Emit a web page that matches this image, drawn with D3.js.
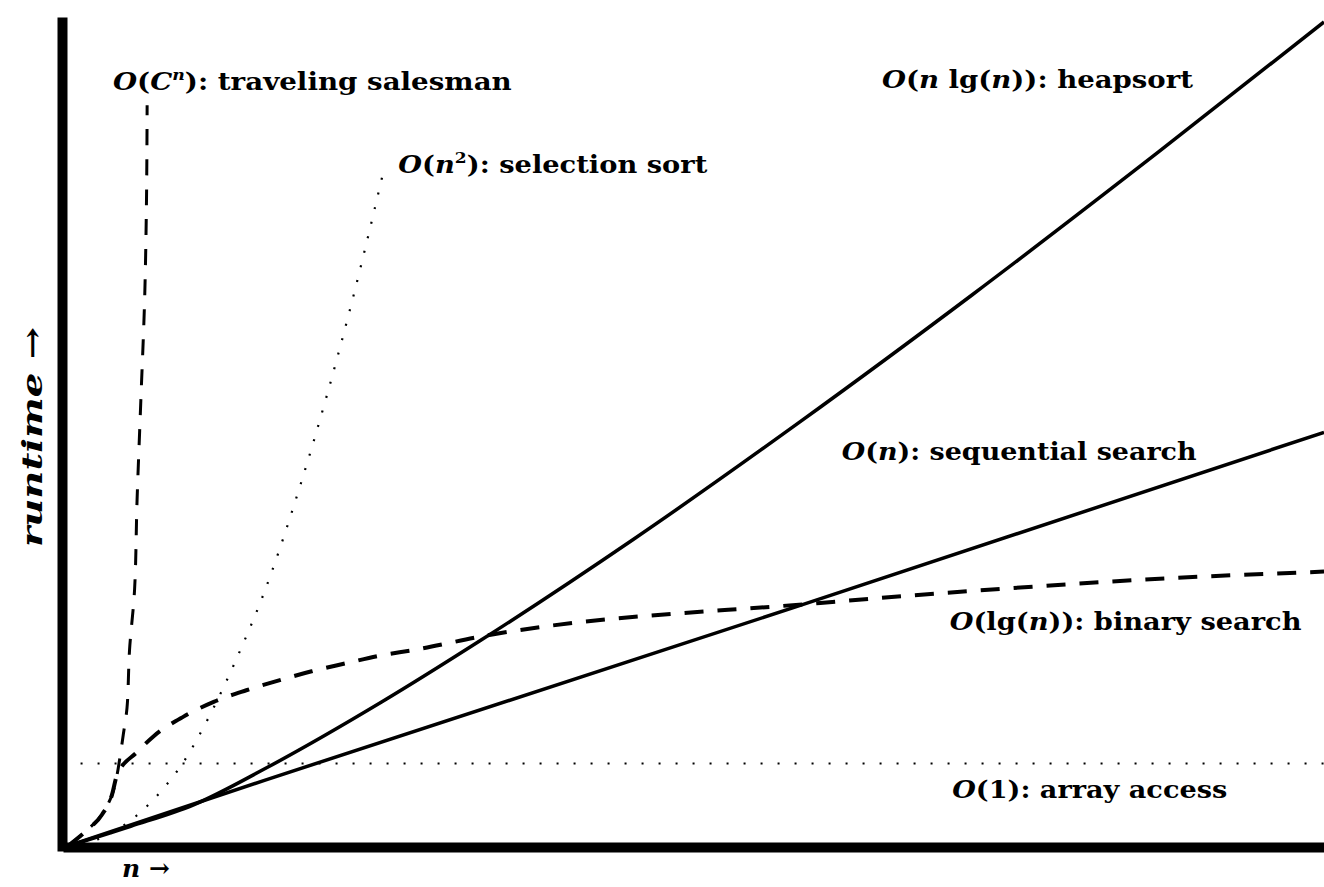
<!DOCTYPE html>
<html><head><meta charset="utf-8">
<script src="https://cdn.jsdelivr.net/npm/d3@7"></script>
<style>body{margin:0;background:#fff} svg{display:block}</style>
</head><body>
<svg id="chart" width="1324" height="887"></svg>
<script>
// ---------------- data (n, runtime) ----------------
const xTitle = "n";
const yTitle = "runtime";
const expPts  = [[0,0],[1.5,1.9],[2.7,3.8],[3.5,6.2],[3.9,8.6],[4.1,10.4],[4.4,13.5],[4.7,16.8],[4.9,23.8],[5.3,31.1],[5.5,42.0],[5.8,54.1],[6.1,66.3],[6.25,78.4],[6.3,89.9]];
const quadPts = [[0,0],[2.5,0.9],[5.7,4.0],[7.6,7.0],[9.2,10.2],[11.1,15.3],[13.9,24.4],[15.4,29.9],[18.5,43.8],[22.7,66.6],[25.2,82.4]];
const nlgnPts = [[0,0],[5,2.4],[10,5.0],[15.7,9.4],[25,17.5],[32.8,24.9],[45,37.2],[58.3,51.5],[72,66.9],[86.8,84.2],[100,100]];
const linPts  = [[0,0],[15.7,8.0],[58.3,29.2],[100,50.2]];
const logPts  = [[0,0],[1.5,1.9],[2.7,3.8],[3.5,6.2],[3.9,8.6],[5.5,11.4],[6.8,13.3],[9.2,15.7],[11.6,17.5],[14.2,18.9],[16.8,20.1],[19.4,21.2],[22.2,22.2],[24.8,23.1],[27.6,23.8],[32.8,25.4],[59.9,29.5],[74.2,31.2],[87.7,32.5],[100,33.3]];
const constPts = [[1,10],[100,10]];

// label texts as segments: [text, style]  (i = italic, s = superscript, si = italic superscript)
const labelTexts = [
  [["O","i"],["(",""],["C","i"],["n","si"],["): traveling salesman",""]],
  [["O","i"],["(",""],["n","i"],["2","s"],["): selection sort",""]],
  [["O","i"],["(",""],["n","i"],[" lg(",""],["n","i"],["))",""],[": heapsort",""]],
  [["O","i"],["(",""],["n","i"],["): sequential search",""]],
  [["O","i"],["(lg(",""],["n","i"],[")): binary search",""]],
  [["O","i"],["(1): array access",""]]
];
// label anchors in data units (n, runtime)
const labelAnchors = [[3.58,91.7],[26.3,81.7],[64.8,92.0],[61.6,46.8],[70.2,26.2],[70.4,5.8]];

// ---------------- layout / style ----------------
const labelWidths = [399, 309, 311, 355, 352, 275];
const series = [
  {pts: expPts,   width: 3,   dash: "16,14", curve: d3.curveCatmullRom.alpha(0.5)},
  {pts: quadPts,  width: 2.2, dash: "2,13",  curve: d3.curveMonotoneX},
  {pts: nlgnPts,  width: 3.5, dash: null,    curve: d3.curveMonotoneX},
  {pts: linPts,   width: 3.5, dash: null,    curve: d3.curveLinear},
  {pts: logPts,   width: 4,   dash: "19,14", curve: d3.curveMonotoneX},
  {pts: constPts, width: 2,   dash: "2,15",  curve: d3.curveLinear}
];

const svg = d3.select("#chart");
const x = d3.scaleLinear().domain([0,100]).range([68,1324]);
const y = d3.scaleLinear().domain([0,100]).range([846,22]);

svg.append("g").selectAll("path").data(series).join("path")
  .attr("d", d=>d3.line().x(p=>x(p[0])).y(p=>y(p[1])).curve(d.curve)(d.pts))
  .attr("fill","none").attr("stroke","#000")
  .attr("stroke-width", d=>d.width)
  .attr("stroke-dasharray", d=>d.dash)
  .attr("stroke-linejoin","round");

// axes
svg.append("g").attr("transform","translate(62,0)")
  .call(d3.axisLeft(y).tickValues([]).tickSizeOuter(0));
svg.append("g").attr("transform","translate(0,847)")
  .call(d3.axisBottom(x).tickValues([]).tickSizeOuter(0));
svg.selectAll(".domain").attr("stroke","#000").attr("stroke-width",10).attr("stroke-linecap","square");

// labels
const font = "'DejaVu Serif', 'Liberation Serif', serif";
labelTexts.forEach((segs,i)=>{
  const g = svg.append("g");
  const t = g.append("text").attr("x",0).attr("y",0)
    .attr("font-family",font).attr("font-weight","bold").attr("font-size",24).attr("fill","#000");
  let prevSup = false;
  segs.forEach(([txt,st])=>{
    const ts = t.append("tspan").text(txt);
    if (st==="i" || st==="si") ts.attr("font-style","italic");
    if (st==="s" || st==="si") { ts.attr("font-size",15).attr("dy",-10); prevSup = true; }
    else if (prevSup) { ts.attr("dy",10); prevSup = false; }
  });
  const w = t.node().getComputedTextLength();
  const sx = labelWidths[i] / w;
  g.attr("transform", `translate(${x(labelAnchors[i][0])},${y(labelAnchors[i][1])}) scale(${sx},1)`);
});

// axis titles
svg.append("text")
  .attr("transform","translate(42,437) rotate(-90)")
  .attr("text-anchor","middle")
  .attr("font-family",font).attr("font-weight","bold").attr("font-style","italic")
  .attr("font-size",28).attr("textLength",220).attr("lengthAdjust","spacingAndGlyphs")
  .text(yTitle + "  \u2192");

const xt = svg.append("text")
  .attr("x",122).attr("y",877)
  .attr("font-family",font).attr("font-weight","bold").attr("font-size",25);
xt.append("tspan").attr("font-style","italic").text(xTitle);
xt.append("tspan").text(" \u2192");
</script>
</body></html>
